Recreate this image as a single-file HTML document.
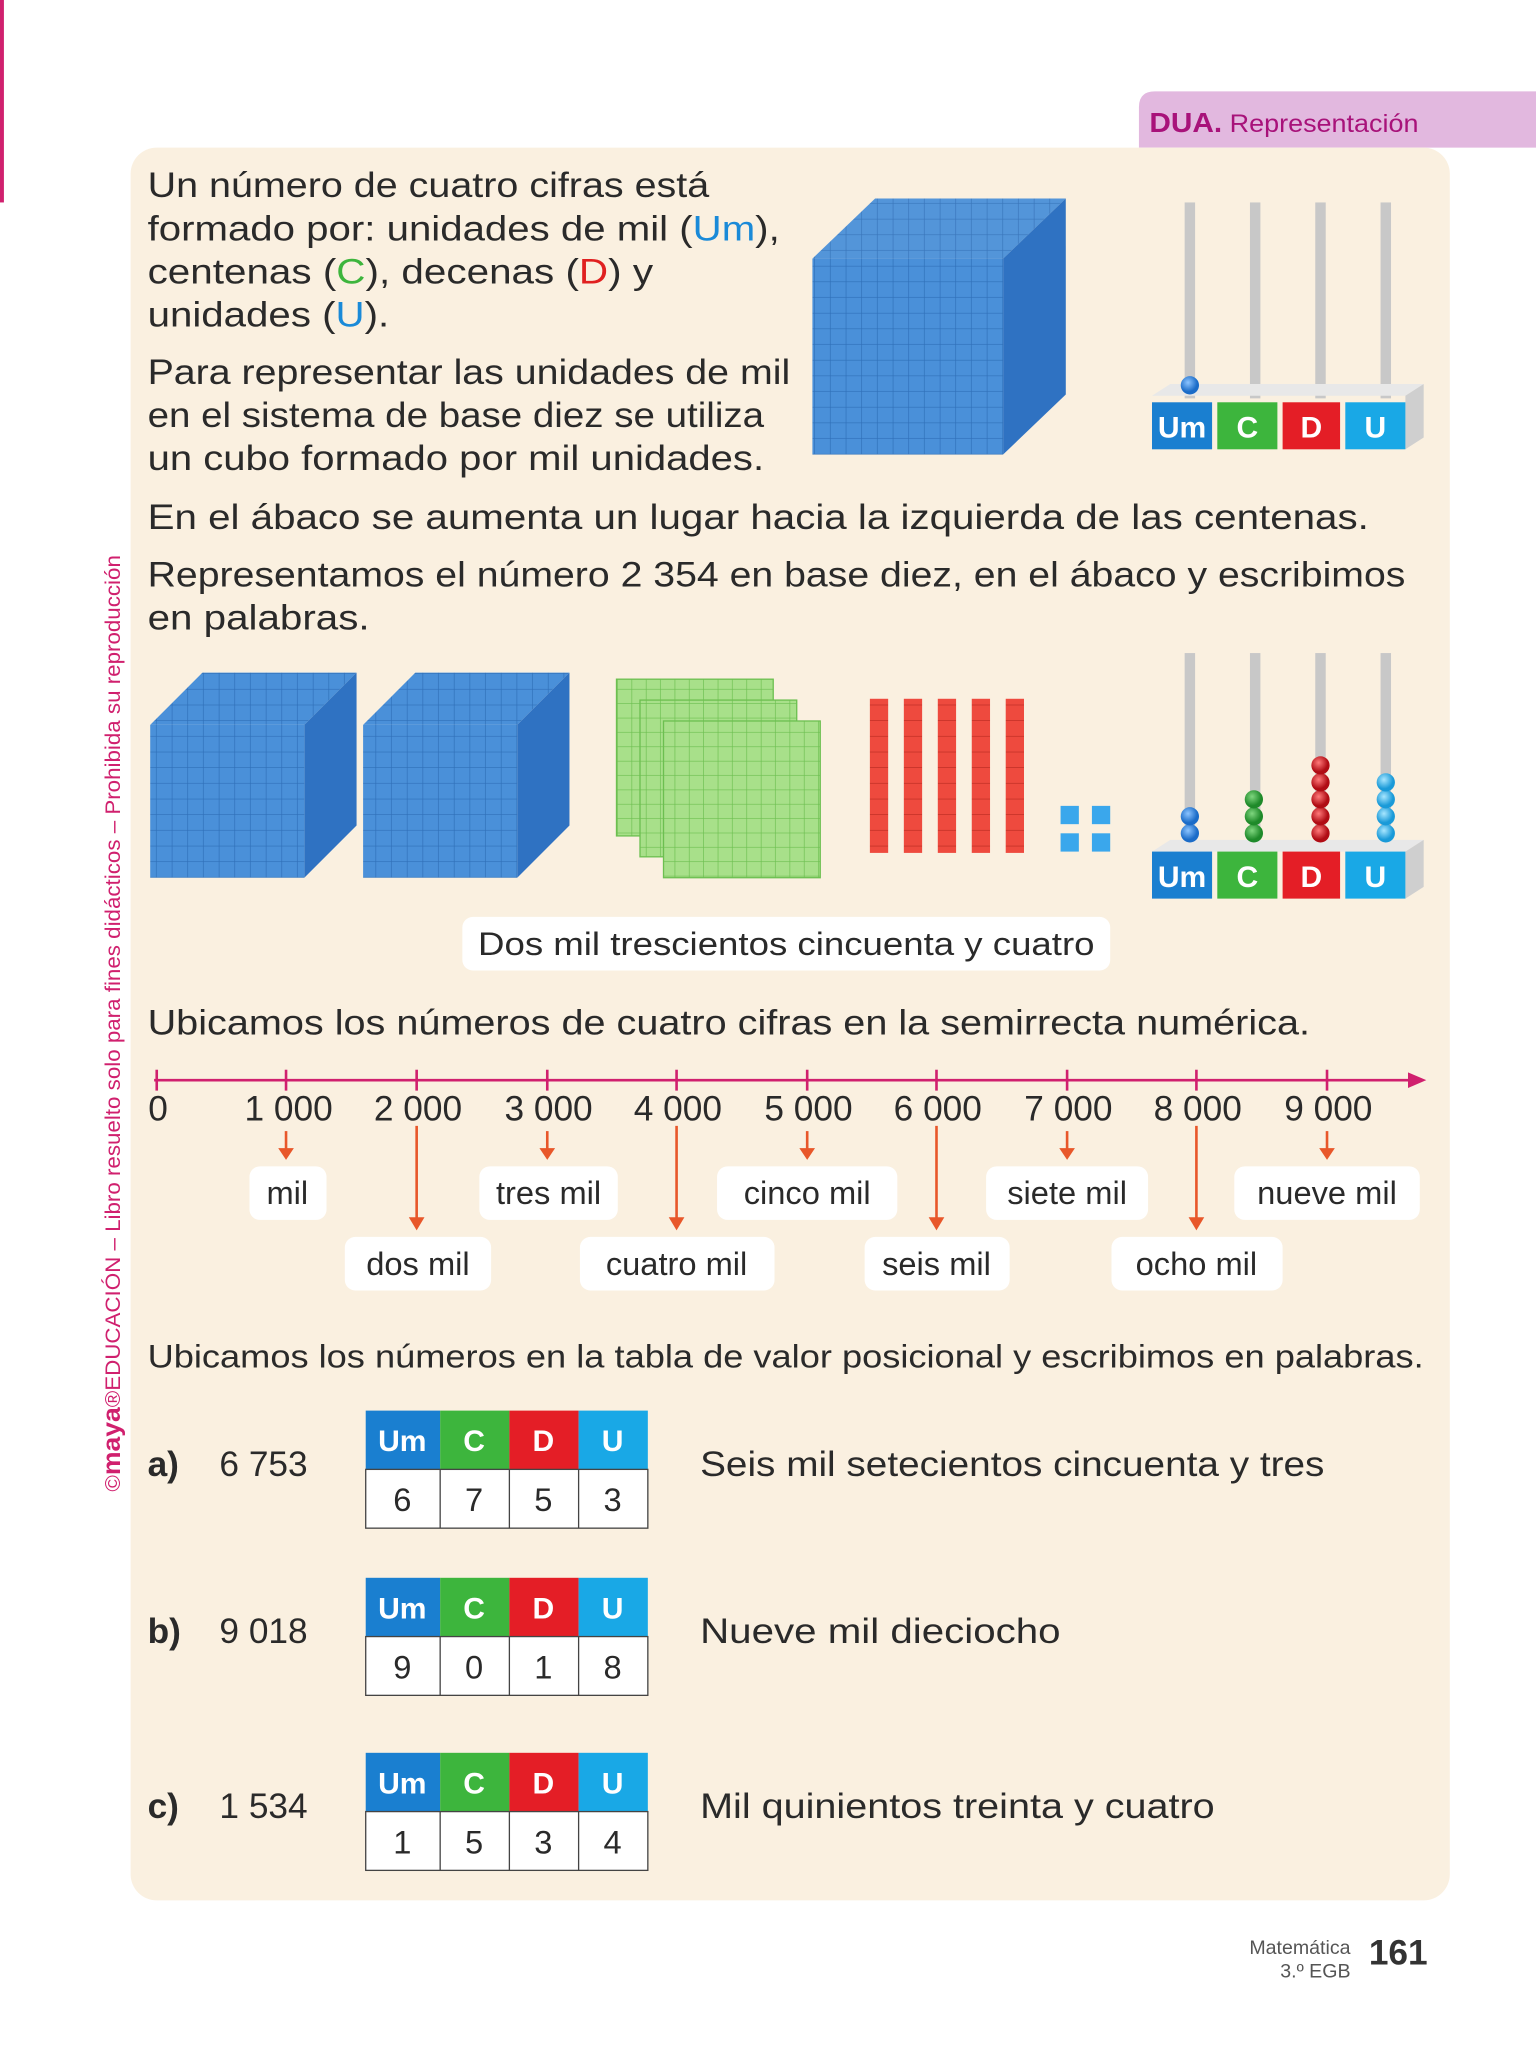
<!DOCTYPE html>
<html><head><meta charset="utf-8"><style>
html,body{margin:0;padding:0;background:#fff;}
svg{display:block;}
text{font-family:"Liberation Sans",sans-serif;}
</style></head><body>
<svg width="1536" height="2048" viewBox="0 0 1176 1568" xmlns="http://www.w3.org/2000/svg">
<defs>
<pattern id="g" width="12" height="12" patternUnits="userSpaceOnUse"><rect width="12" height="12" fill="#4a90d9"/><path d="M12 0V12H0" stroke="#2f6fb8" stroke-width="1" fill="none"/></pattern>
<pattern id="gg" width="11" height="11" patternUnits="userSpaceOnUse"><rect width="11" height="11" fill="#a8e08a"/><path d="M11 0V11H0" stroke="#6cbf50" stroke-width="1" fill="none"/></pattern>
<pattern id="rr" width="14" height="12" patternUnits="userSpaceOnUse"><rect width="14" height="12" fill="#ee4a3e"/><path d="M0 12H14" stroke="#b82a20" stroke-width="1"/></pattern>
<radialGradient id="bb" cx="40%" cy="35%"><stop offset="0" stop-color="#8cc4ff"/><stop offset="1" stop-color="#1b6cc8"/></radialGradient>
<radialGradient id="bg2" cx="40%" cy="35%"><stop offset="0" stop-color="#7fd67f"/><stop offset="1" stop-color="#1f8a2a"/></radialGradient>
<radialGradient id="br" cx="40%" cy="35%"><stop offset="0" stop-color="#ff7a7a"/><stop offset="1" stop-color="#b00c14"/></radialGradient>
<radialGradient id="bl" cx="40%" cy="35%"><stop offset="0" stop-color="#a8e6ff"/><stop offset="1" stop-color="#1a9ad8"/></radialGradient>
</defs>
<rect x="0" y="0" width="3" height="155" fill="#d0206e"/>
<path d="M884 70H1176V113H872V82Q872 70 884 70Z" fill="#e2b8df"/>
<text x="880" y="101" font-size="21" font-weight="bold" fill="#a8127a" textLength="206" lengthAdjust="spacingAndGlyphs">DUA.<tspan font-size="19" font-weight="normal"> Representación</tspan></text>
<rect x="100" y="113" width="1010" height="1342" rx="20" fill="#faf0e0"/>
<text transform="translate(92,1142) rotate(-90)" font-size="16" fill="#d0206e" textLength="717" lengthAdjust="spacingAndGlyphs">©<tspan font-weight="bold" font-size="19">maya</tspan>®EDUCACIÓN – Libro resuelto solo para fines didácticos – Prohibida su reproducción</text>

<g font-size="27" fill="#2a2a2a">
<text x="113" y="151" textLength="430" lengthAdjust="spacingAndGlyphs">Un número de cuatro cifras está</text>
<text x="113" y="184" textLength="484" lengthAdjust="spacingAndGlyphs">formado por: unidades de mil (<tspan fill="#1a8ad8">Um</tspan>),</text>
<text x="113" y="217" textLength="387" lengthAdjust="spacingAndGlyphs">centenas (<tspan fill="#3db53d">C</tspan>), decenas (<tspan fill="#e02020">D</tspan>) y</text>
<text x="113" y="250" textLength="185" lengthAdjust="spacingAndGlyphs">unidades (<tspan fill="#1a8ad8">U</tspan>).</text>
<text x="113" y="294" textLength="492" lengthAdjust="spacingAndGlyphs">Para representar las unidades de mil</text>
<text x="113" y="327" textLength="472" lengthAdjust="spacingAndGlyphs">en el sistema de base diez se utiliza</text>
<text x="113" y="360" textLength="472" lengthAdjust="spacingAndGlyphs">un cubo formado por mil unidades.</text>
<text x="113" y="405" textLength="935" lengthAdjust="spacingAndGlyphs">En el ábaco se aumenta un lugar hacia la izquierda de las centenas.</text>
<text x="113" y="449" textLength="963" lengthAdjust="spacingAndGlyphs">Representamos el número 2 354 en base diez, en el ábaco y escribimos</text>
<text x="113" y="482" textLength="170" lengthAdjust="spacingAndGlyphs">en palabras.</text>
<text x="113" y="792" textLength="890" lengthAdjust="spacingAndGlyphs">Ubicamos los números de cuatro cifras en la semirrecta numérica.</text>
<text x="113" y="1047" font-size="25" textLength="977" lengthAdjust="spacingAndGlyphs">Ubicamos los números en la tabla de valor posicional y escribimos en palabras.</text>
</g>

<g>
<polygon points="622,198 670,152 816,152 768,198" fill="url(#g)" opacity="0.95"/>
<polygon points="768,198 816,152 816,302 768,348" fill="#2f72c2"/>
<rect x="622" y="198" width="146" height="150" fill="url(#g)"/>
</g>
<g>
<polygon points="115,555 155,515 273,515 233,555" fill="url(#g)"/>
<polygon points="233,555 273,515 273,632 233,672" fill="#2f72c2"/>
<rect x="115" y="555" width="118" height="117" fill="url(#g)"/>
<polygon points="278,555 318,515 436,515 396,555" fill="url(#g)"/>
<polygon points="396,555 436,515 436,632 396,672" fill="#2f72c2"/>
<rect x="278" y="555" width="118" height="117" fill="url(#g)"/>
</g>
<g stroke="#6cbf50">
<rect x="472" y="520" width="120" height="120" fill="url(#gg)"/>
<rect x="490" y="536" width="120" height="120" fill="url(#gg)"/>
<rect x="508" y="552" width="120" height="120" fill="url(#gg)"/>
</g>
<g>
<rect x="666" y="535" width="14" height="118" fill="url(#rr)"/>
<rect x="692" y="535" width="14" height="118" fill="url(#rr)"/>
<rect x="718" y="535" width="14" height="118" fill="url(#rr)"/>
<rect x="744" y="535" width="14" height="118" fill="url(#rr)"/>
<rect x="770" y="535" width="14" height="118" fill="url(#rr)"/>
</g>
<g fill="#3aa7ec">
<rect x="812" y="617" width="14" height="14"/><rect x="836" y="617" width="14" height="14"/>
<rect x="812" y="638" width="14" height="14"/><rect x="836" y="638" width="14" height="14"/>
</g>

<g>
<rect x="907" y="155" width="8" height="150" fill="#c8c8c8"/>
<rect x="957" y="155" width="8" height="150" fill="#c8c8c8"/>
<rect x="1007" y="155" width="8" height="150" fill="#c8c8c8"/>
<rect x="1057" y="155" width="8" height="150" fill="#c8c8c8"/>
<polygon points="882,303 896,294 1090,294 1076,303" fill="#e8e8e8"/>
<polygon points="1076,303 1090,294 1090,335 1076,344" fill="#cfcfcf"/>
<circle cx="911" cy="295" r="7" fill="url(#bb)"/>
<rect x="882" y="308" width="46" height="36" fill="#1a7fd0"/>
<rect x="932" y="308" width="46" height="36" fill="#3db53d"/>
<rect x="982" y="308" width="44" height="36" fill="#e41e26"/>
<rect x="1030" y="308" width="46" height="36" fill="#19a8e6"/>
<g font-size="23" font-weight="bold" fill="#fff" text-anchor="middle">
<text x="905" y="335">Um</text><text x="955" y="335">C</text><text x="1004" y="335">D</text><text x="1053" y="335">U</text></g>
</g>
<g>
<rect x="907" y="500" width="8" height="150" fill="#c8c8c8"/>
<rect x="957" y="500" width="8" height="150" fill="#c8c8c8"/>
<rect x="1007" y="500" width="8" height="150" fill="#c8c8c8"/>
<rect x="1057" y="500" width="8" height="150" fill="#c8c8c8"/>
<polygon points="882,652 896,643 1090,643 1076,652" fill="#e8e8e8"/>
<polygon points="1076,652 1090,643 1090,679 1076,688" fill="#cfcfcf"/>
<circle cx="911" cy="638" r="7" fill="url(#bb)"/><circle cx="911" cy="625" r="7" fill="url(#bb)"/>
<circle cx="960" cy="638" r="7" fill="url(#bg2)"/><circle cx="960" cy="625" r="7" fill="url(#bg2)"/><circle cx="960" cy="612" r="7" fill="url(#bg2)"/>
<circle cx="1011" cy="638" r="7" fill="url(#br)"/><circle cx="1011" cy="625" r="7" fill="url(#br)"/><circle cx="1011" cy="612" r="7" fill="url(#br)"/><circle cx="1011" cy="599" r="7" fill="url(#br)"/><circle cx="1011" cy="586" r="7" fill="url(#br)"/>
<circle cx="1061" cy="638" r="7" fill="url(#bl)"/><circle cx="1061" cy="625" r="7" fill="url(#bl)"/><circle cx="1061" cy="612" r="7" fill="url(#bl)"/><circle cx="1061" cy="599" r="7" fill="url(#bl)"/>
<rect x="882" y="652" width="46" height="36" fill="#1a7fd0"/>
<rect x="932" y="652" width="46" height="36" fill="#3db53d"/>
<rect x="982" y="652" width="44" height="36" fill="#e41e26"/>
<rect x="1030" y="652" width="46" height="36" fill="#19a8e6"/>
<g font-size="23" font-weight="bold" fill="#fff" text-anchor="middle">
<text x="905" y="679">Um</text><text x="955" y="679">C</text><text x="1004" y="679">D</text><text x="1053" y="679">U</text></g>
</g>

<rect x="354" y="702" width="496" height="41" rx="8" fill="#fff"/>
<text x="366" y="731" font-size="25" fill="#2a2a2a" textLength="472" lengthAdjust="spacingAndGlyphs">Dos mil trescientos cincuenta y cuatro</text>

<line x1="118" y1="827" x2="1082" y2="827" stroke="#d0206e" stroke-width="2"/>
<polygon points="1092,827 1078,821 1078,833" fill="#d0206e"/>
<g stroke="#d0206e" stroke-width="2">
<line x1="120" y1="819" x2="120" y2="835"/><line x1="219" y1="819" x2="219" y2="835"/><line x1="319" y1="819" x2="319" y2="835"/><line x1="419" y1="819" x2="419" y2="835"/><line x1="518" y1="819" x2="518" y2="835"/><line x1="618" y1="819" x2="618" y2="835"/><line x1="717" y1="819" x2="717" y2="835"/><line x1="817" y1="819" x2="817" y2="835"/><line x1="916" y1="819" x2="916" y2="835"/><line x1="1016" y1="819" x2="1016" y2="835"/>
</g>
<g font-size="27" fill="#2a2a2a" text-anchor="middle">
<text x="121" y="858">0</text><text x="221" y="858">1 000</text><text x="320" y="858">2 000</text><text x="420" y="858">3 000</text><text x="519" y="858">4 000</text><text x="619" y="858">5 000</text><text x="718" y="858">6 000</text><text x="818" y="858">7 000</text><text x="917" y="858">8 000</text><text x="1017" y="858">9 000</text>
</g>
<g stroke="#e8572a" stroke-width="2">
<line x1="219" y1="866" x2="219" y2="880"/><line x1="419" y1="866" x2="419" y2="880"/><line x1="618" y1="866" x2="618" y2="880"/><line x1="817" y1="866" x2="817" y2="880"/><line x1="1016" y1="866" x2="1016" y2="880"/>
<line x1="319" y1="862" x2="319" y2="934"/><line x1="518" y1="862" x2="518" y2="934"/><line x1="717" y1="862" x2="717" y2="934"/><line x1="916" y1="862" x2="916" y2="934"/>
</g>
<g fill="#e8572a">
<polygon points="213,879 225,879 219,888"/><polygon points="413,879 425,879 419,888"/><polygon points="612,879 624,879 618,888"/><polygon points="811,879 823,879 817,888"/><polygon points="1010,879 1022,879 1016,888"/>
<polygon points="313,932 325,932 319,942"/><polygon points="512,932 524,932 518,942"/><polygon points="711,932 723,932 717,942"/><polygon points="910,932 922,932 916,942"/>
</g>
<g fill="#fff">
<rect x="191" y="893" width="59" height="41" rx="8"/><rect x="367" y="893" width="106" height="41" rx="8"/><rect x="549" y="893" width="138" height="41" rx="8"/><rect x="755" y="893" width="124" height="41" rx="8"/><rect x="945" y="893" width="142" height="41" rx="8"/>
<rect x="264" y="947" width="112" height="41" rx="8"/><rect x="444" y="947" width="149" height="41" rx="8"/><rect x="662" y="947" width="111" height="41" rx="8"/><rect x="851" y="947" width="131" height="41" rx="8"/>
</g>
<g font-size="25" fill="#2a2a2a" text-anchor="middle">
<text x="220" y="922">mil</text><text x="420" y="922">tres mil</text><text x="618" y="922">cinco mil</text><text x="817" y="922">siete mil</text><text x="1016" y="922">nueve mil</text>
<text x="320" y="976">dos mil</text><text x="518" y="976">cuatro mil</text><text x="717" y="976">seis mil</text><text x="916" y="976">ocho mil</text>
</g>

<g font-size="27" fill="#2a2a2a">
<text x="113" y="1130" font-weight="bold">a)</text><text x="168" y="1130">6 753</text>
<text x="536" y="1130" textLength="478" lengthAdjust="spacingAndGlyphs">Seis mil setecientos cincuenta y tres</text>
<text x="113" y="1258" font-weight="bold">b)</text><text x="168" y="1258">9 018</text>
<text x="536" y="1258" textLength="276" lengthAdjust="spacingAndGlyphs">Nueve mil dieciocho</text>
<text x="113" y="1392" font-weight="bold">c)</text><text x="168" y="1392">1 534</text>
<text x="536" y="1392" textLength="394" lengthAdjust="spacingAndGlyphs">Mil quinientos treinta y cuatro</text>
</g>
<g>
<rect x="280" y="1080" width="57" height="45" fill="#1a7fd0"/><rect x="337" y="1080" width="53" height="45" fill="#3db53d"/><rect x="390" y="1080" width="53" height="45" fill="#e41e26"/><rect x="443" y="1080" width="53" height="45" fill="#19a8e6"/>
<rect x="280" y="1125" width="216" height="45" fill="#fff" stroke="#444"/>
<path d="M337 1125V1170M390 1125V1170M443 1125V1170" stroke="#444"/>
<rect x="280" y="1208" width="57" height="45" fill="#1a7fd0"/><rect x="337" y="1208" width="53" height="45" fill="#3db53d"/><rect x="390" y="1208" width="53" height="45" fill="#e41e26"/><rect x="443" y="1208" width="53" height="45" fill="#19a8e6"/>
<rect x="280" y="1253" width="216" height="45" fill="#fff" stroke="#444"/>
<path d="M337 1253V1298M390 1253V1298M443 1253V1298" stroke="#444"/>
<rect x="280" y="1342" width="57" height="45" fill="#1a7fd0"/><rect x="337" y="1342" width="53" height="45" fill="#3db53d"/><rect x="390" y="1342" width="53" height="45" fill="#e41e26"/><rect x="443" y="1342" width="53" height="45" fill="#19a8e6"/>
<rect x="280" y="1387" width="216" height="45" fill="#fff" stroke="#444"/>
<path d="M337 1387V1432M390 1387V1432M443 1387V1432" stroke="#444"/>
<g font-size="23" font-weight="bold" fill="#fff" text-anchor="middle">
<text x="308" y="1111">Um</text><text x="363" y="1111">C</text><text x="416" y="1111">D</text><text x="469" y="1111">U</text>
<text x="308" y="1239">Um</text><text x="363" y="1239">C</text><text x="416" y="1239">D</text><text x="469" y="1239">U</text>
<text x="308" y="1373">Um</text><text x="363" y="1373">C</text><text x="416" y="1373">D</text><text x="469" y="1373">U</text>
</g>
<g font-size="25" fill="#2a2a2a" text-anchor="middle">
<text x="308" y="1157">6</text><text x="363" y="1157">7</text><text x="416" y="1157">5</text><text x="469" y="1157">3</text>
<text x="308" y="1285">9</text><text x="363" y="1285">0</text><text x="416" y="1285">1</text><text x="469" y="1285">8</text>
<text x="308" y="1419">1</text><text x="363" y="1419">5</text><text x="416" y="1419">3</text><text x="469" y="1419">4</text>
</g>
</g>

<text x="1034" y="1496" font-size="15" fill="#555" text-anchor="end">Matemática</text>
<text x="1034" y="1514" font-size="15" fill="#555" text-anchor="end">3.º EGB</text>
<text x="1048" y="1504" font-size="27" font-weight="bold" fill="#333">161</text>
</svg>
</body></html>
